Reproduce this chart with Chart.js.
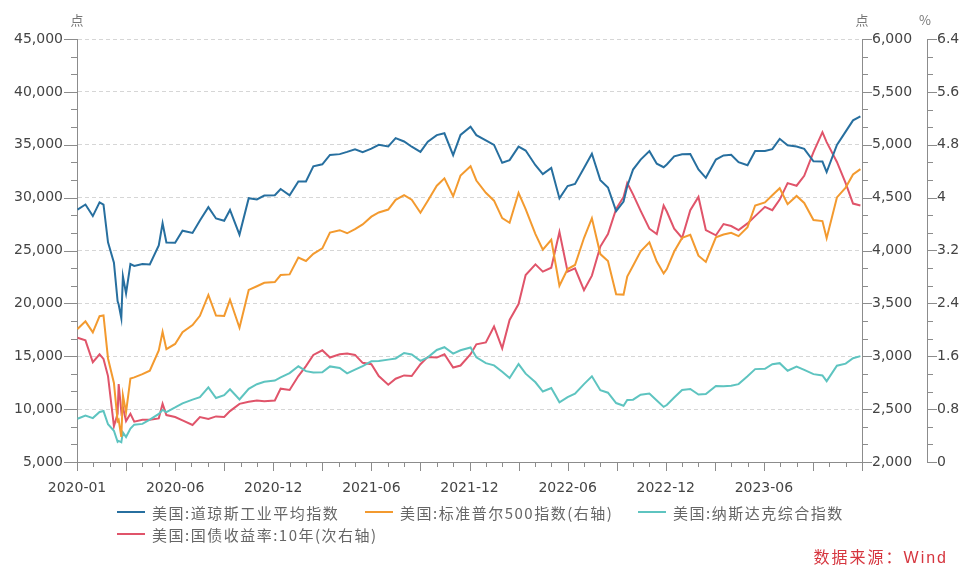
<!DOCTYPE html>
<html>
<head>
<meta charset="utf-8">
<script src="https://cdn.jsdelivr.net/npm/chart.js@4.4.1/dist/chart.umd.min.js"></script>
<style>
body{margin:0;background:#fff;}
#wrap{position:relative;width:962px;height:567px;}
.item{position:absolute;display:flex;align-items:center;height:20px;transform:translateY(-50%);white-space:nowrap;}
.swatch{display:inline-block;width:28px;height:2px;margin-right:7px;}
.item span.txt{font:15px "Noto Sans CJK SC",sans-serif;letter-spacing:1.5px;color:#666;}
#source{position:absolute;right:14px;top:544px;font:16px "Liberation Sans","Noto Sans CJK SC",sans-serif;letter-spacing:2px;color:#d6363f;}
</style>
</head>
<body>
<div id="wrap">
<canvas id="myChart"></canvas>
<div id="legend"></div>
<div id="source">数据来源：Wind</div>
</div>
<script>
// weekly-ish closes, 2020-01 .. 2023-12
var dates = [
'2020-01-02','2020-01-17','2020-01-31','2020-02-12','2020-02-19','2020-02-27','2020-03-09','2020-03-16','2020-03-18','2020-03-23',
'2020-03-26','2020-04-01','2020-04-09','2020-04-16','2020-05-01','2020-05-15','2020-06-01','2020-06-08','2020-06-15','2020-07-01',
'2020-07-15','2020-08-03','2020-08-17','2020-09-02','2020-09-16','2020-10-01','2020-10-12','2020-10-30','2020-11-16','2020-12-01','2020-12-15',
'2021-01-04','2021-01-15','2021-02-01','2021-02-16','2021-03-01','2021-03-15','2021-04-01','2021-04-15','2021-05-03','2021-05-17',
'2021-06-01','2021-06-15','2021-07-01','2021-07-15','2021-08-02','2021-08-16','2021-09-01','2021-09-15','2021-10-01','2021-10-15',
'2021-11-01','2021-11-15','2021-12-01','2021-12-15',
'2022-01-03','2022-01-14','2022-02-01','2022-02-15','2022-03-01','2022-03-15','2022-04-01','2022-04-14','2022-05-02','2022-05-16',
'2022-06-01','2022-06-16','2022-07-01','2022-07-15','2022-08-01','2022-08-16','2022-09-01','2022-09-15','2022-09-30','2022-10-14',
'2022-10-21','2022-11-01','2022-11-15','2022-12-01','2022-12-15','2022-12-28',
'2023-01-03','2023-01-17','2023-02-01','2023-02-15','2023-03-01','2023-03-15','2023-04-03','2023-04-17','2023-05-01','2023-05-15',
'2023-06-01','2023-06-15','2023-07-03','2023-07-17','2023-07-31','2023-08-15','2023-09-01','2023-09-15','2023-10-02','2023-10-19',
'2023-10-27','2023-11-15','2023-12-01','2023-12-15','2023-12-29'
];

var dowValues = [
28868,29348,28256,29551,29348,25766,23851,20189,19899,18592,
22552,20943,23719,23538,23724,23685,25475,27572,25763,25734,
26870,26664,27844,29100,28032,27817,28837,26502,29950,29823,30199,
30223,30814,30212,31523,31535,32953,33153,34035,34113,34327,
34575,34299,34633,34987,34838,35625,35312,34814,34326,35294,
35913,36087,34022,35927,
36700,35911,35405,34988,33294,33544,34818,34451,33061,32223,
32813,29927,31097,31288,32798,34152,31656,30961,28725,29634,
31082,32653,33593,34395,33202,32876,
33136,33910,34092,34128,32661,31875,33601,33987,34051,33348,
33061,34408,34418,34585,35559,34946,34837,34618,33433,33414,
32418,34991,36245,37305,37690
];

var spxValues = [
3258,3330,3226,3379,3386,2979,2747,2386,2398,2237,
2630,2471,2790,2800,2831,2864,3056,3232,3067,3116,
3227,3295,3382,3580,3385,3381,3535,3270,3627,3662,3695,
3701,3768,3774,3933,3901,3969,4020,4170,4192,4163,
4202,4247,4320,4360,4387,4479,4524,4480,4357,4471,
4613,4682,4513,4709,
4797,4662,4546,4471,4306,4262,4545,4392,4155,4008,
4101,3667,3825,3863,4118,4305,3966,3901,3586,3583,
3753,3856,3992,4077,3896,3783,
3824,3990,4119,4148,3951,3892,4125,4151,4167,4136,
4221,4426,4455,4522,4589,4438,4516,4450,4288,4278,
4117,4502,4595,4719,4770
];

var nasdaqValues = [
9093,9389,9151,9726,9817,8567,7950,6904,6989,6861,
7798,7360,8153,8533,8605,9015,9552,9924,9726,10155,
10550,10903,11130,12056,11050,11327,11876,10912,11925,12355,12595,
12698,12999,13403,14047,13589,13460,13480,14039,13895,13379,
13736,14072,14522,14543,14681,14793,15310,15161,14567,14897,
15595,15854,15254,15566,
15833,14894,14346,14139,13532,12949,14261,13351,12536,11663,
11994,10646,11128,11452,12369,13102,11785,11552,10576,10321,
10860,10890,11358,11482,10811,10213,
10386,11095,11816,11910,11379,11434,12190,12157,12212,12366,
13101,13783,13817,14244,14346,13632,14031,13709,13307,13187,
12643,14103,14305,14814,15011
];

var yield10y = [
1.88,1.84,1.51,1.63,1.56,1.30,0.54,0.73,1.18,0.76,
0.83,0.62,0.73,0.61,0.64,0.64,0.66,0.88,0.71,0.68,
0.63,0.56,0.68,0.65,0.69,0.68,0.77,0.88,0.91,0.93,0.92,
0.93,1.11,1.09,1.30,1.45,1.62,1.69,1.58,1.63,1.64,
1.62,1.50,1.48,1.30,1.17,1.26,1.31,1.30,1.48,1.59,
1.58,1.63,1.43,1.46,
1.63,1.78,1.81,2.05,1.72,2.15,2.39,2.83,2.99,2.88,
2.94,3.48,2.88,2.93,2.60,2.82,3.26,3.45,3.83,4.01,
4.22,4.05,3.80,3.53,3.45,3.88,
3.79,3.53,3.39,3.81,4.01,3.51,3.43,3.60,3.57,3.51,
3.61,3.72,3.86,3.81,3.97,4.22,4.18,4.33,4.69,4.99,
4.84,4.54,4.22,3.91,3.88
];

var seriesNames = ["美国:道琼斯工业平均指数","美国:标准普尔500指数(右轴)","美国:纳斯达克综合指数","美国:国债收益率:10年(次右轴)"];
var seriesColors = ["#276f9f","#f39a2f","#5ec4c0","#e0546a"];
var xTickLabels = ["2020-01","2020-06","2020-12","2021-06","2021-12","2022-06","2022-12","2023-06"];

var axisColor="#8c8c8c";
var labelFont={family:"'DejaVu Sans', sans-serif",size:14};

// month offset from 2020-01-01, fractional by day
function monthPos(d){
var p=d.split("-").map(Number);
var days=new Date(p[0],p[1],0).getDate();
return (p[0]-2020)*12+(p[1]-1)+(p[2]-1)/days;
}

function toPoints(vals){
return dates.map(function(d,i){return {x:monthPos(d),y:vals[i]};});
}

// three sub-steps per labelled step
function thirds(min,step,n){
return function(s){
var t=[];
for(var i=0;i<=n*3;i++){t.push({value:min+i*step/3});}
s.ticks=t;
};
}

function isMajor(v,min,step){
var r=(v-min)/step;
return Math.abs(r-Math.round(r))<1e-6;
}

var axisDecor={
id:"axisDecor",
afterDraw:function(chart){
var ctx=chart.ctx, sc=chart.scales;
ctx.save();
ctx.strokeStyle=axisColor;
ctx.lineWidth=1;
ctx.beginPath();
["y","y1","y2"].forEach(function(id){
var s=sc[id];
var left=s.position==="left";
var x0=left?s.right:s.left;
s.ticks.forEach(function(t,i){
var len=i%3===0?(left?13:10):6;
var y=Math.round(s.getPixelForValue(t.value))+0.5;
ctx.moveTo(x0,y);
ctx.lineTo(left?x0-len:x0+len,y);
});
});
var sx=sc.x;
sx.ticks.forEach(function(t){
var x=Math.round(sx.getPixelForValue(t.value))+0.5;
var len=t.value%3===0?9:5;
ctx.moveTo(x,sx.top);
ctx.lineTo(x,sx.top+len);
});
ctx.stroke();
ctx.fillStyle="#777";
ctx.font="13px 'Noto Sans CJK SC'";
ctx.textAlign="center";
ctx.textBaseline="middle";
var ty=chart.chartArea.top-19;
ctx.fillText("点",sc.y.right,ty);
ctx.fillText("点",sc.y1.left,ty);
ctx.fillText("%",sc.y2.left-2,ty);
ctx.restore();
}
};

var datasets=[
{data:toPoints(dowValues),yAxisID:"y"},
{data:toPoints(spxValues),yAxisID:"y1"},
{data:toPoints(nasdaqValues),yAxisID:"y"},
{data:toPoints(yield10y),yAxisID:"y2"}
].map(function(ds,i){
ds.label=seriesNames[i];
ds.borderColor=seriesColors[i];
ds.backgroundColor=seriesColors[i];
ds.borderWidth=2;
ds.pointRadius=0;
ds.tension=0;
return ds;
});

new Chart("myChart",{
type:"line",
data:{datasets:datasets},
plugins:[axisDecor],
options:{
responsive:true,
maintainAspectRatio:false,
animation:false,
events:[],
layout:{padding:{left:0,right:0,top:39,bottom:75}},
plugins:{legend:{display:false},tooltip:{enabled:false}},
scales:{
x:{
type:"linear",min:0,max:48,
afterBuildTicks:function(s){var t=[];for(var i=0;i<=48;i++){t.push({value:i});}s.ticks=t;},
afterFit:function(s){s.height=30;},
grid:{display:false},
border:{display:true,color:axisColor,width:1},
ticks:{autoSkip:false,maxRotation:0,minRotation:0,padding:10,color:"#444",font:labelFont,
callback:function(v){return v%6===0&&xTickLabels[v/6]?xTickLabels[v/6]:"";}}
},
y:{
position:"left",min:5000,max:45000,
afterBuildTicks:thirds(5000,5000,8),
afterFit:function(s){s.width=77;},
grid:{drawTicks:false,
color:function(c){return (c.index%3===0&&c.index>0)?"#d6d6d6":"rgba(0,0,0,0)";}},
border:{display:true,color:axisColor,width:1,dash:[4,3]},
ticks:{autoSkip:false,padding:14,color:"#444",font:labelFont,
callback:function(v){return isMajor(v,5000,5000)?Math.round(v).toLocaleString("en-US"):"";}}
},
y1:{
position:"right",min:2000,max:6000,
afterBuildTicks:thirds(2000,500,8),
afterFit:function(s){s.width=65;},
grid:{display:false,drawOnChartArea:false,drawTicks:false},
border:{display:true,color:axisColor,width:1},
ticks:{autoSkip:false,padding:10,color:"#444",font:labelFont,
callback:function(v){return isMajor(v,2000,500)?Math.round(v).toLocaleString("en-US"):"";}}
},
y2:{
position:"right",min:0,max:6.4,
afterBuildTicks:thirds(0,0.8,8),
afterFit:function(s){s.width=35;},
grid:{display:false,drawOnChartArea:false,drawTicks:false},
border:{display:true,color:axisColor,width:1},
ticks:{autoSkip:false,padding:10,color:"#444",font:labelFont,
callback:function(v){return isMajor(v,0,0.8)?String(parseFloat(v.toFixed(1))):"";}}
}
}
}
});

// legend rows under the plot
var legendSpots=[[117,512],[365,512],[638,512],[117,534]];
var legend=document.getElementById("legend");
seriesNames.forEach(function(name,i){
var el=document.createElement("div");
el.className="item";
el.style.left=legendSpots[i][0]+"px";
el.style.top=legendSpots[i][1]+"px";
el.innerHTML='<span class="swatch" style="background:'+seriesColors[i]+'"></span><span class="txt">'+name+'</span>';
legend.appendChild(el);
});
</script>
</body>
</html>
